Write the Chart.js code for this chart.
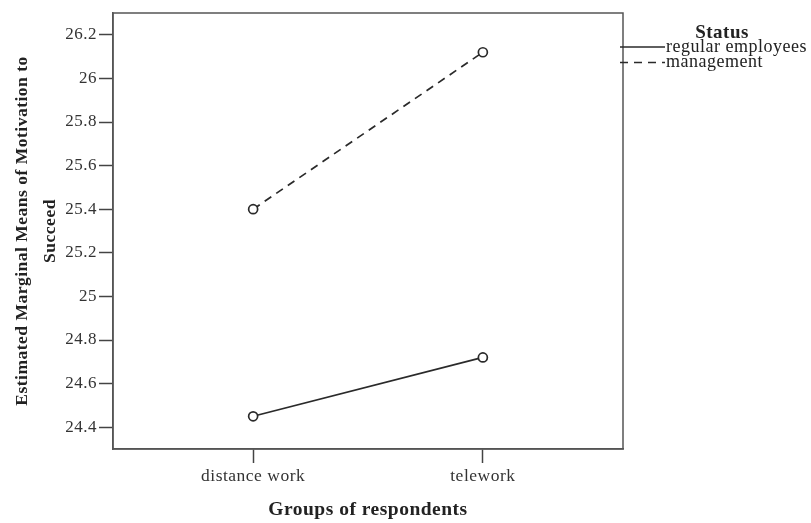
<!DOCTYPE html>
<html>
<head>
<meta charset="utf-8">
<script src="https://cdn.jsdelivr.net/npm/chart.js@4.4.1/dist/chart.umd.min.js"></script>
<style>
  html, body { margin: 0; padding: 0; background: #fff; }
  #wrap { width: 811px; height: 523px; }
</style>
</head>
<body>
<div id="wrap"><canvas id="canvas-profile"></canvas></div>
<script>
// groups on the x axis
const groups = ['distance work', 'telework'];
// estimated marginal means per status
const regularEmployees = [24.45, 24.72];
const management = [25.40, 26.12];
// y tick labels
const yTicks = [24.4, 24.6, 24.8, 25, 25.2, 25.4, 25.6, 25.8, 26, 26.2];

const serif = "'Liberation Serif', 'Times New Roman', serif";
const ink = '#2a2a2a';

function toPoints(values) {
    return values.map((v, i) => ({ x: i, y: v }));
}

// the source type is a bit wider than Liberation Serif, open it up a little
const spacing = {
    id: 'spacing',
    beforeUpdate(chart) { chart.ctx.letterSpacing = '0.5px'; },
    beforeDraw(chart) { chart.ctx.letterSpacing = '0.5px'; }
};

// frame round the plot + the "Status" legend on the right
const frameAndLegend = {
    id: 'frameAndLegend',
    afterDraw(chart) {
        const { ctx, chartArea: a } = chart;
        ctx.save();
        ctx.strokeStyle = '#555';
        ctx.lineWidth = 1.5;
        ctx.strokeRect(a.left, a.top, a.right - a.left, a.bottom - a.top);

        ctx.fillStyle = '#222';
        ctx.font = 'bold 19px ' + serif;
        ctx.textAlign = 'center';
        ctx.textBaseline = 'middle';
        ctx.fillText('Status', a.right + 99, 33);

        ctx.font = '18px ' + serif;
        ctx.textAlign = 'left';
        chart.data.datasets.forEach((ds, i) => {
            const y = 47 + i * 15.5;
            ctx.strokeStyle = ink;
            ctx.lineWidth = 1.7;
            ctx.setLineDash(ds.borderDash || []);
            ctx.beginPath();
            ctx.moveTo(a.right - 3, y);
            ctx.lineTo(a.right + 42, y);
            ctx.stroke();
            ctx.setLineDash([]);
            ctx.fillStyle = '#222';
            ctx.fillText(ds.label, a.right + 43, y);
        });
        ctx.restore();
    }
};

const ctx = document.getElementById('canvas-profile').getContext('2d');
new Chart(ctx, {
    type: 'line',
    data: {
        datasets: [{
            label: 'regular employees',
            data: toPoints(regularEmployees),
            borderColor: ink,
            borderWidth: 1.7,
            pointRadius: 4.5,
            pointBorderWidth: 1.7,
            pointBackgroundColor: '#fff',
            pointBorderColor: ink
        }, {
            label: 'management',
            data: toPoints(management),
            borderColor: ink,
            borderWidth: 1.7,
            borderDash: [8, 6],
            pointRadius: 4.5,
            pointBorderWidth: 1.7,
            pointBackgroundColor: '#fff',
            pointBorderColor: ink
        }]
    },
    options: {
        responsive: true,
        maintainAspectRatio: false,
        animation: false,
        layout: { padding: { top: 13, right: 188, left: 0, bottom: 0 } },
        plugins: {
            legend: { display: false },
            tooltip: { enabled: false }
        },
        scales: {
            x: {
                type: 'linear',
                min: -0.61,
                max: 1.61,
                afterBuildTicks: (scale) => {
                    scale.ticks = groups.map((g, i) => ({ value: i }));
                },
                afterFit: (scale) => { scale.height = 74; },
                ticks: {
                    callback: (v) => groups[v],
                    color: '#333',
                    font: { family: serif, size: 17.5 },
                    padding: 3,
                    maxRotation: 0
                },
                grid: {
                    drawOnChartArea: false,
                    tickLength: 14,
                    tickWidth: 1.5,
                    tickColor: '#444'
                },
                border: { color: '#555', width: 1.5 },
                title: {
                    display: true,
                    text: 'Groups of respondents',
                    color: '#222',
                    font: { family: serif, size: 19.5, weight: 'bold', lineHeight: 1.2 },
                    padding: { top: 0, bottom: 1 }
                }
            },
            y: {
                min: 24.3,
                max: 26.3,
                afterBuildTicks: (scale) => {
                    scale.ticks = yTicks.map(v => ({ value: v }));
                },
                afterFit: (scale) => { scale.width = 113; },
                ticks: {
                    callback: (v) => String(Math.round(v * 10) / 10),
                    color: '#333',
                    font: { family: serif, size: 17 },
                    padding: 2
                },
                grid: {
                    drawOnChartArea: false,
                    tickLength: 14,
                    tickWidth: 1.5,
                    tickColor: '#444'
                },
                border: { color: '#555', width: 1.5 },
                title: {
                    display: true,
                    text: ['Estimated Marginal Means of Motivation to', 'Succeed'],
                    color: '#222',
                    font: { family: serif, size: 17.5, weight: 'bold', lineHeight: 1.6 },
                    padding: { top: 8, bottom: 0 }
                }
            }
        }
    },
    plugins: [spacing, frameAndLegend]
});
</script>
</body>
</html>
